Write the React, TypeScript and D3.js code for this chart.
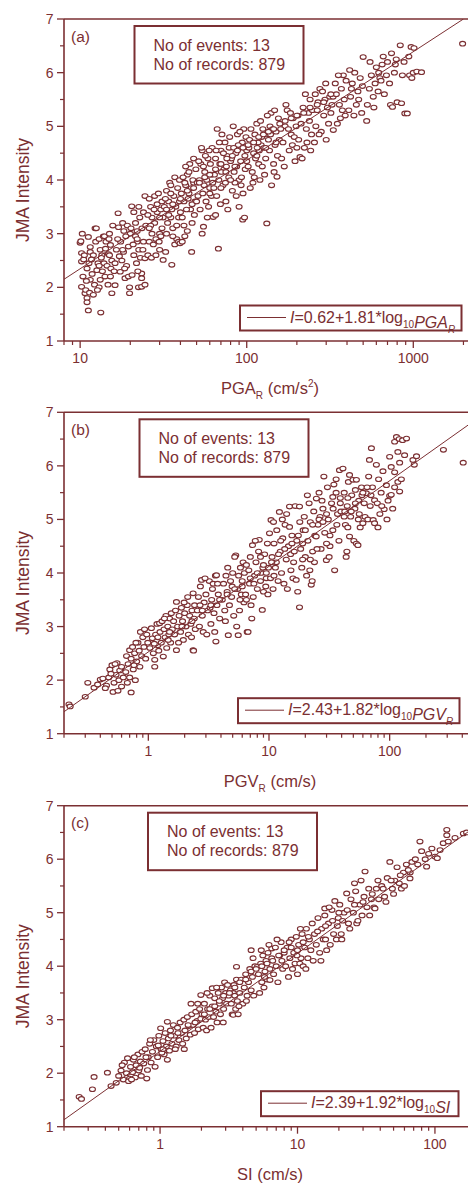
import React from "react";
import * as d3 from "d3";

type Pt = [number, number];

const COLOR = "#7b2f32";
const FONT = "'Liberation Sans', Arial, sans-serif";

const intensityTicks = [1, 2, 3, 4, 5, 6, 7];
const intensityMinor = [1.5, 2.5, 3.5, 4.5, 5.5, 6.5];

const pgaTicks = [10, 100, 1000];
const pgvTicks = [1, 10, 100];
const siTicks = [1, 10, 100];

const pgaDomain = [8, 2130];
const pgvDomain = [0.2, 446];
const siDomain = [0.2, 174];

// fitted lines, end points
const pgaFit: Pt[] = [[8, 2.15], [2000, 7.0]];
const pgvFit: Pt[] = [[0.2, 1.41], [446, 6.76]];
const siFit: Pt[] = [[0.2, 1.13], [174, 6.51]];

const pgaPoints: Pt[] = [
  [10.0,2.83],[10.1,2.86],[10.3,3.0],[10.2,2.64],[10.2,2.48],[10.5,2.52],[10.2,2.01],[10.7,1.89],[11.0,1.8],[11.0,1.72],
  [11.2,1.57],[10.8,1.95],[11.2,2.94],[11.5,2.66],[12.0,2.6],[11.0,2.35],[11.5,2.14],[11.4,1.9],[12.0,1.86],[12.3,3.1],
  [12.5,3.1],[11.8,2.25],[12.2,2.05],[11.5,2.75],[10.6,2.6],[11.3,2.45],[10.4,2.2],[12.4,2.85],[11.7,2.52],[10.9,2.12],
  [13.3,1.53],[13.2,2.14],[12.6,2.32],[13.2,2.7],[13.5,2.6],[12.8,2.45],[13.0,2.0],[13.0,2.9],[13.8,2.95],[13.6,2.3],
  [12.7,1.95],[13.9,2.45],[14.0,2.95],[14.3,2.85],[14.1,2.2],[15.2,2.79],[15.2,2.2],[15.5,1.89],[15.7,3.15],[14.8,2.62],
  [14.5,2.4],[15.0,3.0],[14.7,2.05],[15.5,2.5],[13.4,2.55],[14.2,2.72],[15.3,2.35],[14.9,2.9],
  [16.9,3.38],[16.2,2.45],[16.2,2.04],[17.4,2.29],[18.2,2.66],[19.5,2.76],[20.0,3.0],[18.6,2.17],[17.0,3.12],[17.5,2.85],
  [18.0,3.2],[18.8,2.95],[16.5,2.7],[17.8,2.5],[19.0,2.4],[19.5,2.2],[19.8,1.89],[19.8,2.0],[16.8,2.9],[18.3,3.05],
  [17.2,2.58],[19.2,3.15],[16.0,2.3],[18.5,2.35],
  [20.4,3.51],[21.0,3.4],[21.5,3.2],[22.0,3.05],[22.0,2.85],[22.5,2.7],[23.0,2.55],[23.4,2.26],[23.4,2.17],[22.4,2.0],
  [23.4,2.01],[24.5,2.05],[20.5,2.23],[21.0,2.6],[21.5,2.95],[22.8,3.3],[23.5,3.1],[24.0,2.85],[24.5,3.7],[24.0,3.4],
  [24.5,2.54],[20.8,2.8],[21.8,2.45],[22.5,3.5],[23.8,2.7],[24.8,3.15],[20.2,3.1],[22.2,2.3],
  [26.0,3.65],[26.5,3.5],[27.0,3.3],[27.0,3.0],[26.0,2.85],[27.5,2.8],[28.0,3.2],[29.0,3.55],[29.0,3.4],[28.5,2.9],
  [30.0,3.0],[31.0,3.1],[31.5,2.51],[30.0,2.7],[28.0,3.7],[26.5,3.15],[25.5,2.6],[26.8,2.55],[29.5,3.75],[30.5,3.45],
  [31.5,3.3],[28.5,2.6],[27.8,3.45],[29.8,2.85],[25.5,3.35],[31.0,3.6],[30.5,2.95],
  [32.6,2.66],[35.5,2.42],[32.0,3.5],[33.0,3.8],[34.0,3.6],[35.0,3.3],[36.0,3.1],[37.0,2.8],[38.0,2.9],[33.5,3.2],
  [34.5,3.95],[36.5,3.7],[37.5,3.5],[38.5,3.85],[39.5,3.6],[39.0,3.3],[33.0,3.0],[35.5,3.45],[37.0,4.05],[39.5,4.0],
  [36.0,2.95],[34.0,3.35],[38.0,3.15],[32.5,3.65],[35.0,3.75],[39.0,2.85],
  [39.8,2.82],[41.0,2.85],[42.5,2.95],[46.7,2.66],[41.0,3.3],[42.0,3.6],[43.0,3.9],[44.0,4.1],[45.0,3.75],[46.0,3.45],
  [47.0,3.2],[48.0,3.95],[49.0,3.6],[41.5,4.05],[43.5,3.45],[44.5,3.65],[45.5,4.3],[47.5,4.0],[48.5,3.35],[42.0,3.15],
  [46.5,3.85],[49.5,4.2],[43.0,4.25],[40.5,3.75],[44.0,3.05],[48.0,4.4],[47.0,3.55],[42.5,3.95],
  [55.0,3.13],[54.0,3.0],[63.0,3.31],[58.0,3.3],[51.0,3.7],[52.0,4.0],[53.0,4.3],[54.0,4.55],[55.5,3.9],[56.0,4.15],
  [57.0,3.6],[58.5,4.4],[60.0,3.85],[61.0,4.1],[62.0,4.6],[59.0,3.5],[52.5,3.45],[56.5,4.45],[60.5,4.3],[62.5,3.95],
  [51.5,4.35],[57.5,4.0],[54.5,3.75],[61.5,3.7],[53.5,4.6],[59.5,4.55],[50.5,3.95],
  [67.6,2.72],[65.0,3.35],[66.0,3.7],[68.0,4.0],[69.0,4.3],[70.0,4.55],[72.0,3.9],[73.0,4.2],[74.0,4.7],[75.0,3.6],
  [76.0,4.45],[78.0,4.05],[79.0,4.8],[64.0,4.1],[71.0,4.85],[77.0,3.45],[65.5,4.55],[69.5,3.55],[72.5,4.5],[75.5,4.25],
  [78.5,4.6],[66.5,4.95],[70.5,4.15],[74.5,3.95],[80.0,4.35],[63.5,3.85],[68.5,4.7],
  [94.6,3.26],[97.0,3.3],[90.0,3.5],[82.0,3.8],[84.0,4.15],[86.0,4.5],[88.0,4.85],[83.0,5.0],[90.0,4.0],[92.0,4.35],
  [94.0,4.7],[96.0,4.95],[98.0,4.2],[100.0,4.55],[85.0,3.95],[89.0,4.65],[93.0,4.05],[99.0,4.8],[81.0,4.4],[87.0,4.25],
  [95.0,3.75],[91.0,4.9],[97.5,4.45],[83.5,4.6],[86.5,3.7],[92.5,3.9],
  [132.0,3.19],[105.0,3.85],[108.0,4.15],[110.0,4.5],[112.0,4.85],[115.0,5.05],[118.0,4.3],[120.0,4.0],[122.0,4.65],
  [125.0,4.95],[103.0,4.6],[106.0,4.95],[109.0,3.95],[113.0,4.4],[117.0,4.7],[121.0,5.1],[124.0,4.25],[102.0,4.25],
  [111.0,4.05],[119.0,4.55],[104.0,4.75],[115.5,4.6],[123.0,4.8],
  [141.0,3.9],[128.0,4.1],[130.0,4.4],[135.0,4.75],[138.0,5.0],[140.0,5.25],[145.0,4.3],[148.0,4.65],[150.0,4.9],
  [152.0,4.06],[155.0,5.15],[131.0,4.85],[137.0,4.55],[143.0,4.95],[147.0,5.3],[153.0,4.45],[157.0,4.75],[133.0,5.2],
  [127.0,4.6],[146.0,4.15],[139.0,4.85],
  [162.0,4.4],[165.0,4.7],[170.0,5.0],[175.0,5.3],[180.0,4.55],[185.0,4.85],[190.0,5.15],[195.0,4.35],[198.0,5.0],
  [168.0,4.25],[178.0,4.95],[188.0,4.65],[172.0,5.4],[183.0,5.25],[160.0,4.95],[193.0,4.8],[200.0,4.6],
  [209.0,4.43],[205.0,4.75],[212.0,5.05],[218.0,5.35],[222.0,4.6],[228.0,4.95],[235.0,5.25],[240.0,5.5],[245.0,4.85],
  [215.0,4.4],[230.0,4.7],[238.0,5.1],[248.0,5.3],[225.0,5.6],[203.0,5.2],[242.0,4.55],
  [255.0,4.7],[260.0,5.0],[265.0,5.3],[275.0,5.7],[280.0,4.9],[290.0,5.2],[295.0,5.5],[300.0,4.75],[310.0,5.05],
  [268.0,5.45],[285.0,5.65],[305.0,5.35],[258.0,5.6],[315.0,5.55],[272.0,4.85],[298.0,5.8],
  [331.0,4.93],[320.0,5.25],[330.0,5.55],[340.0,5.8],[350.0,5.05],[360.0,5.4],[370.0,5.7],[380.0,5.95],[390.0,5.2],
  [345.0,5.6],[365.0,5.15],[385.0,5.5],[395.0,5.85],[325.0,5.4],[355.0,5.95],[375.0,5.3],
  [410.0,5.3],[420.0,5.55],[430.0,5.8],[445.0,6.0],[455.0,5.4],[465.0,5.65],[480.0,5.9],[490.0,5.25],[500.0,6.29],
  [415.0,6.05],[440.0,5.2],[470.0,5.5],[495.0,5.75],[425.0,5.7],
  [525.0,5.1],[530.0,5.4],[545.0,5.7],[560.0,5.95],[575.0,5.55],[590.0,5.8],[600.0,6.1],[615.0,5.65],[630.0,5.9],
  [550.0,6.2],[580.0,5.35],[620.0,6.0],
  [640.0,5.85],[650.0,6.15],[670.0,5.6],[690.0,5.95],[700.0,6.2],[730.0,5.4],[740.0,6.36],[750.0,5.36],[770.0,6.0],
  [800.0,5.45],[660.0,6.3],[720.0,5.8],[780.0,6.15],[790.0,6.25],
  [835.0,6.51],[850.0,5.43],[890.0,5.24],[920.0,5.24],[950.0,5.95],[970.0,6.48],[1000.0,6.0],[1050.0,6.02],
  [1120.0,6.01],[880.0,6.2],[940.0,6.3],[860.0,5.95],[1010.0,6.46],[980.0,5.9],
  [1977.0,6.54],
  // denser core
  [30,3.3],[33,3.45],[36,3.55],[40,3.65],[44,3.8],[48,3.85],[52,3.95],[56,4.05],[60,4.1],[65,4.2],
  [70,4.3],[76,4.4],[82,4.45],[88,4.55],[95,4.6],[102,4.65],[110,4.7],[118,4.8],[126,4.85],[135,4.9],
  [145,4.95],[158,5.05],[170,5.1],[185,5.15],[200,5.2],[220,5.25],[240,5.35],[265,5.4],[290,5.45],[320,5.6],
  [35,3.9],[45,4.15],[55,4.25],[65,4.4],[75,4.15],[85,4.25],[100,4.35],[115,4.45],[130,4.6],[150,4.7],
  [40,3.4],[50,3.6],[60,3.75],[70,3.85],[80,4.0],[26,3.1],[22,2.9],[18,2.7],[15,2.6],[13,2.4],
];

const pgvPoints: Pt[] = [
  [0.22,1.55],[0.225,1.51],[0.30,1.69],[0.315,1.95],[0.355,1.86],[0.40,2.01],[0.38,1.92],
  [0.42,2.03],[0.45,1.9],[0.47,2.05],[0.48,2.2],[0.50,2.28],[0.51,1.78],[0.52,1.95],[0.54,2.1],[0.55,2.32],[0.57,2.0],
  [0.58,2.18],[0.60,1.88],[0.60,2.25],[0.62,2.05],[0.44,1.85],[0.53,2.3],[0.56,1.8],[0.49,2.12],
  [0.65,2.15],[0.66,2.45],[0.68,2.3],[0.70,2.56],[0.70,2.05],[0.72,1.77],[0.72,2.4],[0.74,2.62],[0.75,2.2],[0.77,2.5],
  [0.78,2.0],[0.80,2.35],[0.82,2.7],[0.84,2.55],[0.85,2.25],[0.88,2.45],[0.90,2.8],[0.92,2.62],[0.95,2.4],[0.97,2.85],
  [0.99,2.7],[0.67,1.95],[0.86,2.9],[0.93,2.95],[0.79,2.7],[0.76,2.28],
  [1.03,2.6],[1.06,2.97],[1.08,2.78],[1.10,2.5],[1.13,2.25],[1.13,2.38],[1.15,2.85],[1.18,3.05],[1.20,2.65],[1.24,3.06],
  [1.25,2.9],[1.28,2.7],[1.30,3.1],[1.33,2.44],[1.35,2.95],[1.38,2.8],[1.40,3.2],[1.42,2.6],[1.45,3.0],[1.48,2.85],
  [1.50,3.15],[1.53,2.7],[1.55,3.25],[1.58,2.95],[1.12,2.68],[1.36,3.15],[1.22,2.55],[1.46,2.75],
  [1.62,3.1],[1.65,2.85],[1.68,3.3],[1.71,2.56],[1.71,3.46],[1.75,3.0],[1.80,3.2],[1.85,2.9],[1.88,3.35],[1.92,3.1],
  [1.95,2.75],[2.0,3.25],[2.05,3.0],[2.1,3.4],[2.15,2.85],[2.2,3.2],[2.25,3.05],[2.3,3.3],[2.35,2.56],[2.35,3.62],
  [2.37,2.55],[2.4,3.15],[2.45,2.95],[1.78,2.7],[2.12,3.55],[2.28,2.8],[1.98,3.45],[2.42,3.4],
  [2.55,3.3],[2.6,3.55],[2.65,3.0],[2.7,3.75],[2.76,3.87],[2.8,3.2],[2.85,2.9],[2.9,3.45],[3.0,3.6],[3.05,2.85],
  [3.1,3.3],[3.2,3.85],[3.3,3.05],[3.35,3.5],[3.4,3.7],[3.5,3.25],[3.55,2.9],[3.6,3.95],[3.63,2.72],[3.67,3.96],
  [3.7,3.4],[3.8,3.6],[3.9,3.15],[2.95,3.9],[3.25,3.35],[3.45,3.8],[3.75,3.8],[2.68,3.4],
  [4.1,3.5],[4.2,3.8],[4.3,3.3],[4.4,3.95],[4.5,3.65],[4.6,2.84],[4.7,3.4],[4.8,3.85],[4.9,3.55],[5.0,4.0],
  [5.1,3.2],[5.3,4.33],[5.4,3.0],[5.5,3.7],[5.56,2.84],[5.6,3.95],[5.7,3.3],[5.8,4.1],[5.9,3.6],[6.0,3.85],
  [6.1,4.2],[6.2,3.45],[4.35,3.1],[5.2,4.3],[4.55,4.1],[5.75,3.5],[6.25,4.0],[4.95,3.75],
  [6.4,3.6],[6.6,2.9],[6.7,2.9],[6.8,4.05],[6.9,3.8],[7.0,4.3],[7.2,3.15],[7.3,4.52],[7.4,3.55],[7.6,3.95],
  [7.8,4.2],[8.0,3.7],[8.2,4.4],[8.3,4.62],[8.5,3.85],[8.8,3.31],[8.9,4.1],[9.0,3.65],[9.2,4.35],[9.5,3.9],
  [9.7,4.55],[9.9,4.1],[7.1,3.4],[7.7,4.6],[8.6,4.0],[9.4,3.75],[6.5,4.15],[9.8,3.6],
  [10.1,4.74],[10.3,3.9],[10.4,4.99],[10.6,4.3],[10.8,3.7],[11.0,4.55],[11.3,4.1],[11.6,4.8],[11.9,3.85],[12.2,5.14],
  [12.4,4.4],[12.7,4.0],[13.0,4.65],[13.3,3.8],[13.6,4.9],[13.9,4.25],[14.2,3.7],[14.5,4.5],[14.8,5.24],[14.8,4.86],
  [15.2,4.05],[15.5,4.7],[15.8,3.9],[11.5,4.2],[12.9,5.0],[14.0,5.1],[15.1,4.35],[10.9,4.95],
  [16.5,5.25],[16.8,3.87],[17.3,3.65],[17.9,3.36],[17.9,5.24],[18.3,4.45],[18.7,4.1],[19.2,4.8],[19.6,5.05],[20.0,4.3],
  [20.5,3.95],[21.0,4.6],[21.5,5.3],[22.0,4.95],[22.4,3.78],[22.8,3.85],[23.0,4.4],[23.5,5.15],[24.0,4.7],[24.6,4.68],
  [24.7,5.39],[17.0,4.6],[18.0,4.95],[19.0,4.25],[20.8,5.45],[23.8,4.2],[21.8,4.05],[16.2,4.4],
  [25.5,4.9],[26.0,5.5],[27.0,4.45],[28.0,5.2],[29.0,4.75],[29.9,4.24],[30.5,5.6],[31.0,5.0],[32.0,4.5],[33.0,5.3],
  [33.8,5.42],[33.8,4.8],[35.0,4.05],[36.0,5.75],[37.0,5.1],[38.0,4.6],[38.4,5.92],[39.0,5.4],[26.5,5.05],[28.5,5.8],
  [31.5,4.3],[34.5,5.65],[36.5,4.9],[39.5,5.15],[27.5,5.35],[30.0,4.55],
  [41.0,5.95],[42.0,5.5],[43.0,4.9],[43.6,4.3],[44.2,4.4],[44.5,5.25],[45.5,5.7],[46.5,5.83],[46.5,4.68],[47.5,5.05],
  [48.5,5.45],[49.7,5.74],[50.5,4.6],[51.5,5.2],[53.0,5.74],[53.0,4.55],[54.6,4.52],[55.5,5.35],[57.0,4.85],[58.5,5.6],
  [60.0,4.93],[61.5,5.3],[62.5,5.05],[42.5,5.15],[45.0,4.85],[52.0,5.55],[56.0,5.1],[59.0,5.45],
  [64.0,5.49],[66.0,5.0],[68.0,6.11],[69.0,5.25],[70.6,6.33],[72.0,5.6],[73.0,4.99],[75.0,4.93],[75.0,5.36],[77.6,6.02],
  [79.0,5.3],[81.0,5.75],[83.0,5.1],[85.0,5.5],[88.0,5.9],[90.0,5.19],[94.0,5.64],[97.0,5.35],[100.0,5.44],[100.0,6.17],
  [67.0,5.8],[80.0,4.85],[86.0,5.25],[95.0,5.0],
  [103.0,5.98],[103.0,5.46],[110.0,6.45],[110.0,5.88],[110.0,5.6],[114.0,6.54],[117.0,5.7],[117.0,6.26],[120.0,6.5],
  [121.0,6.06],[121.0,5.52],[128.0,6.48],[133.0,6.2],[138.0,6.51],[156.0,6.11],[160.0,6.02],[106.0,5.2],[125.0,5.75],
  [167.0,6.18],[279.0,6.3],[407.0,6.06],
  // denser core
  [1.2,2.8],[1.5,2.9],[1.9,3.0],[2.3,3.1],[2.8,3.3],[3.3,3.4],[3.9,3.5],[4.5,3.6],[5.2,3.7],[6.0,3.75],
  [7.0,3.9],[8.0,4.0],[9.0,4.15],[10.5,4.2],[12.0,4.35],[13.5,4.45],[15.5,4.55],[17.5,4.7],[20.0,4.8],[23.0,4.9],
  [26.0,5.0],[30.0,5.1],[34.0,5.2],[39.0,5.3],[45.0,5.4],[52.0,5.3],[60.0,5.5],[70.0,5.45],[12.5,4.6],[16.0,4.2],
  [19.0,4.55],[22.0,4.25],[25.0,4.45],[28.0,4.95],[32.0,4.7],[36.0,5.5],[42.0,5.05],[48.0,5.15],[55.0,5.0],[65.0,5.6],
  [6.5,3.5],[7.5,3.8],[8.5,4.3],[9.5,4.0],[11.0,3.95],
];

const siPoints: Pt[] = [
  [0.258,1.56],[0.268,1.52],[0.322,1.70],[0.331,1.93],[0.414,2.01],[0.44,1.76],
  [0.48,1.82],[0.50,1.95],[0.52,2.05],[0.54,1.88],[0.55,2.2],[0.57,2.0],[0.58,2.28],[0.60,1.9],[0.61,2.12],[0.63,2.02],
  [0.64,2.25],[0.66,1.92],[0.67,2.15],[0.69,2.35],[0.70,2.05],[0.72,2.22],[0.73,1.95],[0.74,2.4],[0.53,2.15],[0.59,1.85],
  [0.65,2.3],[0.71,2.1],[0.62,1.88],
  [0.76,2.18],[0.78,2.45],[0.80,1.9],[0.81,2.06],[0.82,2.3],[0.84,2.55],[0.86,2.2],[0.88,2.4],[0.90,2.62],[0.92,2.12],
  [0.94,2.5],[0.96,2.3],[0.98,2.7],[1.01,2.84],[1.02,2.45],[1.05,2.6],[1.07,2.35],[1.09,2.75],[1.11,2.5],[1.13,2.96],
  [1.13,2.25],[1.15,2.65],[1.17,2.42],[1.19,2.8],[0.85,2.62],[0.97,2.52],[1.03,2.38],[0.79,2.3],
  [1.22,2.55],[1.25,2.9],[1.28,2.7],[1.31,2.5],[1.34,2.85],[1.37,2.62],[1.40,2.95],[1.43,2.75],[1.46,2.55],[1.49,3.0],
  [1.52,2.8],[1.55,2.65],[1.58,3.05],[1.62,2.88],[1.66,2.72],[1.70,3.1],[1.74,2.9],[1.78,2.75],[1.82,3.15],[1.86,2.98],
  [1.90,2.82],[1.94,3.2],[1.98,3.46],[1.98,3.02],[1.29,2.45],[1.5,2.45],[1.68,3.3],[1.88,3.3],
  [2.02,3.1],[2.06,2.85],[2.1,3.3],[2.14,3.0],[2.18,2.8],[2.22,3.2],[2.26,3.05],[2.3,3.45],[2.35,2.85],[2.4,3.59],
  [2.4,3.25],[2.45,3.05],[2.5,3.4],[2.55,3.15],[2.6,2.95],[2.65,3.5],[2.7,3.3],[2.75,3.1],[2.8,3.6],[2.85,3.4],
  [2.9,3.2],[2.95,3.7],[3.0,3.5],[3.05,3.3],[3.1,3.65],[3.15,3.45],[2.2,3.5],[2.58,3.6],[2.88,2.95],
  [3.25,3.55],[3.3,3.3],[3.35,3.1],[3.41,3.09],[3.41,3.5],[3.45,3.65],[3.5,3.45],[3.55,3.2],[3.6,3.99],[3.6,3.75],
  [3.65,3.35],[3.7,3.1],[3.8,3.5],[3.9,3.75],[4.0,3.3],[4.1,3.6],[4.2,3.85],[4.3,3.45],[4.4,3.7],[4.5,3.95],
  [4.6,4.3],[4.6,3.55],[4.7,3.8],[4.8,3.45],[4.9,4.0],[3.75,3.25],[4.25,3.35],[4.75,4.15],
  [5.1,3.99],[5.2,3.85],[5.3,3.5],[5.4,4.05],[5.5,3.7],[5.6,4.2],[5.7,3.6],[5.8,3.9],[5.9,4.1],[6.0,3.75],
  [6.1,4.25],[6.3,3.74],[6.3,3.95],[6.5,4.33],[6.5,4.15],[6.7,3.85],[6.9,4.35],[7.0,4.0],[7.2,3.7],[7.4,4.2],
  [7.6,4.45],[7.8,3.95],[8.0,4.25],[5.45,4.3],[6.2,4.4],[7.1,4.5],[7.7,4.1],[5.75,3.8],
  [8.2,4.0],[8.4,4.35],[8.6,3.8],[8.8,4.15],[9.0,4.5],[9.2,3.95],[9.4,4.25],[9.6,4.05],[9.8,4.55],[10.0,3.85],
  [10.2,4.4],[10.4,4.05],[10.6,4.15],[10.8,4.6],[11.0,4.0],[11.3,4.35],[11.6,4.7],[11.9,4.15],[12.2,4.5],[12.5,4.3],
  [12.8,4.8],[13.0,4.1],[8.7,4.45],[10.5,4.7],[11.5,3.95],[9.9,4.2],
  [13.3,4.6],[13.7,4.4],[14.1,4.9],[14.5,4.25],[15.0,4.7],[15.4,4.5],[15.8,5.08],[15.8,4.95],[16.3,4.3],[16.8,4.8],
  [17.3,4.4],[17.8,5.05],[18.3,4.6],[18.7,5.22],[19.2,4.5],[19.8,4.9],[20.3,5.15],[20.8,4.6],[21.3,4.85],[21.8,5.0],
  [14.8,4.1],[16.0,4.5],[17.0,5.1],[19.5,4.75],[21.0,4.5],
  [22.8,5.36],[23.5,4.8],[24.5,5.25],[25.5,5.0],[26.5,5.4],[27.0,4.8],[27.5,4.85],[28.5,5.15],[29.5,4.95],[30.5,5.3],
  [31.0,5.77],[32.0,5.1],[33.5,4.95],[34.5,5.25],[36.0,5.1],[36.6,5.08],[37.5,5.45],[39.0,5.25],[24.0,4.7],[26.0,5.55],
  [29.0,5.6],[33.0,5.45],[38.5,5.6],
  [41.0,5.5],[43.0,5.3],[45.0,5.65],[47.0,5.95],[49.0,5.45],[51.0,5.6],[53.0,5.85],[55.0,5.55],[57.0,5.45],[59.0,5.75],
  [62.0,5.9],[65.8,5.64],[66.0,5.75],[68.0,5.95],[44.0,5.2],[50.0,5.35],[60.0,5.5],
  [72.0,6.0],[77.8,6.33],[80.0,6.15],[87.0,5.86],[90.0,6.1],[95.0,6.2],[100.0,6.05],[104.0,6.02],[109.0,6.17],
  [115.0,6.3],[122.0,6.55],[122.0,6.45],[125.0,6.33],[85.0,6.0],
  [140.0,6.4],[161.0,6.48],[170.0,6.5],
  // denser core
  [1.05,2.45],[1.2,2.7],[1.35,2.75],[1.6,2.9],[1.8,2.95],[2.1,3.1],[2.3,3.2],[2.5,3.25],[2.7,3.35],[2.9,3.45],
  [3.2,3.5],[3.5,3.6],[3.8,3.7],[4.2,3.75],[4.6,3.9],[5.0,3.95],[5.5,4.0],[6.0,4.05],[6.6,4.1],[7.3,4.2],
  [8.0,4.3],[9.0,4.35],[10.0,4.3],[11.0,4.45],[12.0,4.55],[14.0,4.65],[16.0,4.75],[18.0,4.85],[20.0,5.0],[23.0,5.05],
  [26.0,5.15],[30.0,5.2],[35.0,5.35],[42.0,5.45],[48.0,5.6],[56.0,5.7],[64.0,5.8],[75.0,5.9],
];

type PanelProps = {
  id: string;
  top: number;
  bottom: number;
  domain: number[];
  ticks: number[];
  points: Pt[];
  fit: Pt[];
  tag: string;
  info: { x: number; w: number };
  legend: { x: number; w: number; text: React.ReactNode };
  xLabel: React.ReactNode;
};

const LEFT = 64;
const RIGHT = 468;

function Panel({ id, top, bottom, domain, ticks, points, fit, tag, info, legend, xLabel }: PanelProps) {
  const x = d3.scaleLog().domain(domain).range([LEFT, RIGHT]);
  const y = d3.scaleLinear().domain([1, 7]).range([bottom, top]);
  const minor = x.ticks().filter((v) => !ticks.includes(v) && v >= domain[0] && v <= domain[1]);
  const line = d3.line<Pt>().x((d) => x(d[0])).y((d) => y(d[1]));

  return (
    <g>
      <defs>
        <clipPath id={id}>
          <rect x={LEFT} y={top} width={RIGHT - LEFT} height={bottom - top} />
        </clipPath>
      </defs>
      <g clipPath={`url(#${id})`}>
        {points.map((d, i) => (
          <ellipse key={i} cx={x(d[0])} cy={y(d[1])} rx={3} ry={2.3} fill="#fff" stroke={COLOR} strokeWidth={1.1} />
        ))}
        <path d={line(fit) || ""} fill="none" stroke={COLOR} strokeWidth={1} />
      </g>

      {/* frame */}
      <line x1={LEFT} x2={RIGHT} y1={top} y2={top} stroke={COLOR} strokeWidth={1.6} />
      <line x1={LEFT} x2={LEFT} y1={top} y2={bottom} stroke={COLOR} strokeWidth={1.6} />
      <line x1={LEFT} x2={RIGHT} y1={bottom} y2={bottom} stroke={COLOR} strokeWidth={1.6} />

      {/* y axis */}
      {intensityTicks.map((t) => (
        <g key={t}>
          <line x1={LEFT - 7} x2={LEFT} y1={y(t)} y2={y(t)} stroke={COLOR} strokeWidth={1.3} />
          <text x={53.5} y={y(t)} dy="0.36em" textAnchor="end" fontSize={14} fill={COLOR}>{t}</text>
        </g>
      ))}
      {intensityMinor.map((t) => (
        <line key={t} x1={LEFT - 4} x2={LEFT} y1={y(t)} y2={y(t)} stroke={COLOR} strokeWidth={1.2} />
      ))}

      {/* x axis */}
      {ticks.map((t) => (
        <g key={t}>
          <line x1={x(t)} x2={x(t)} y1={bottom} y2={bottom + 7} stroke={COLOR} strokeWidth={1.3} />
          <text x={x(t)} y={bottom + 22} textAnchor="middle" fontSize={14} fill={COLOR}>{t}</text>
        </g>
      ))}
      {minor.map((t, i) => (
        <line key={i} x1={x(t)} x2={x(t)} y1={bottom} y2={bottom + 4} stroke={COLOR} strokeWidth={1.2} />
      ))}

      <text
        transform={`translate(28.5,${(top + bottom) / 2 + 10}) rotate(-90)`}
        textAnchor="middle"
        fontSize={17.5}
        fill={COLOR}
      >
        JMA Intensity
      </text>
      <text x={270} y={bottom + 53} textAnchor="middle" fontSize={16.5} fill={COLOR}>{xLabel}</text>

      <text x={71} y={top + 22.5} fontSize={15.5} fill={COLOR}>{tag}</text>

      {/* info box */}
      <rect x={info.x} y={top + 7} width={info.w} height={57.5} fill="#fff" stroke={COLOR} strokeWidth={2} />
      <text x={info.x + 19} y={top + 31.5} fontSize={16} fill={COLOR}>No of events: 13</text>
      <text x={info.x + 19} y={top + 50.5} fontSize={16} fill={COLOR}>No of records: 879</text>

      {/* fit legend */}
      <rect x={legend.x} y={bottom - 35.5} width={legend.w} height={25} fill="#fff" stroke={COLOR} strokeWidth={2} />
      <line x1={legend.x + 7} x2={legend.x + 46} y1={bottom - 23.5} y2={bottom - 23.5} stroke={COLOR} strokeWidth={1} />
      <text x={legend.x + 50} y={bottom - 18.5} fontSize={16} fill={COLOR}>{legend.text}</text>
    </g>
  );
}

const sub = (s: string, italic = false) => (
  <>
    <tspan dy={5} fontSize={10} fontStyle={italic ? "italic" : "normal"}>{s}</tspan>
    <tspan dy={-5}></tspan>
  </>
);

export default function App() {
  return (
    <svg
      width={468}
      height={1183}
      style={{ position: "absolute", left: 0, top: 0, display: "block", background: "#fff" }}
      fontFamily={FONT}
    >
      <Panel
        id="clipA"
        top={19}
        bottom={341}
        domain={pgaDomain}
        ticks={pgaTicks}
        points={pgaPoints}
        fit={pgaFit}
        tag="(a)"
        info={{ x: 134.5, w: 169 }}
        legend={{
          x: 240,
          w: 221.5,
          text: (
            <>
              <tspan fontStyle="italic">I</tspan>=0.62+1.81*log{sub("10")}
              <tspan fontStyle="italic">PGA</tspan>
              {sub("R", true)}
            </>
          ),
        }}
        xLabel={
          <>
            PGA<tspan dy={5} fontSize={10}>R</tspan>
            <tspan dy={-5}> (cm/s</tspan>
            <tspan dy={-7} fontSize={10}>2</tspan>
            <tspan dy={7}>)</tspan>
          </>
        }
      />
      <Panel
        id="clipB"
        top={412.3}
        bottom={733.7}
        domain={pgvDomain}
        ticks={pgvTicks}
        points={pgvPoints}
        fit={pgvFit}
        tag="(b)"
        info={{ x: 139.5, w: 169 }}
        legend={{
          x: 238,
          w: 221.5,
          text: (
            <>
              <tspan fontStyle="italic">I</tspan>=2.43+1.82*log{sub("10")}
              <tspan fontStyle="italic">PGV</tspan>
              {sub("R", true)}
            </>
          ),
        }}
        xLabel={
          <>
            PGV<tspan dy={5} fontSize={10}>R</tspan>
            <tspan dy={-5}> (cm/s)</tspan>
          </>
        }
      />
      <Panel
        id="clipC"
        top={805.7}
        bottom={1126.7}
        domain={siDomain}
        ticks={siTicks}
        points={siPoints}
        fit={siFit}
        tag="(c)"
        info={{ x: 148, w: 169 }}
        legend={{
          x: 261,
          w: 197.5,
          text: (
            <>
              <tspan fontStyle="italic">I</tspan>=2.39+1.92*log{sub("10")}
              <tspan fontStyle="italic">SI</tspan>
            </>
          ),
        }}
        xLabel={<>SI (cm/s)</>}
      />
    </svg>
  );
}
